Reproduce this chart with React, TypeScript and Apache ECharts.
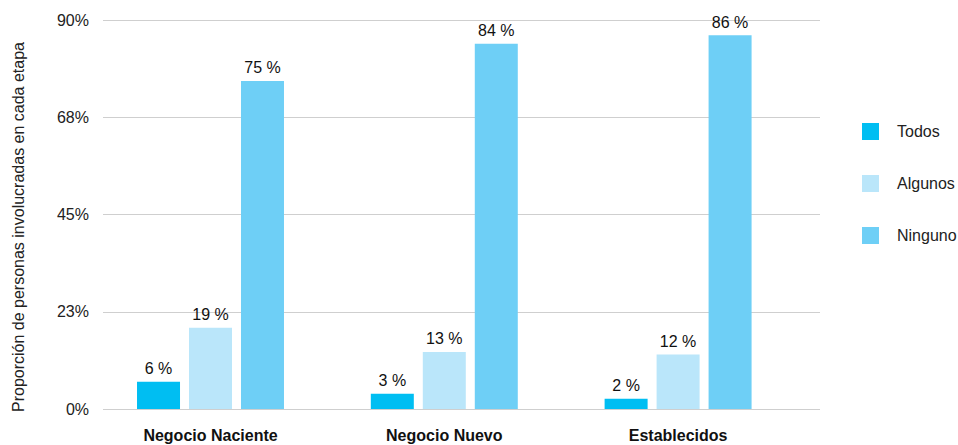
import React, { useEffect, useRef } from "react";
import * as echarts from "echarts";

const categories = ["Negocio Naciente", "Negocio Nuevo", "Establecidos"];
const seriesNames = ["Todos", "Algunos", "Ninguno"];
const todosValues = [6.3, 3.5, 2.4];
const algunosValues = [18.8, 13.2, 12.6];
const ningunoValues = [75.9, 84.5, 86.5];
const todosLabels = ["6 %", "3 %", "2 %"];
const algunosLabels = ["19 %", "13 %", "12 %"];
const ningunoLabels = ["75 %", "84 %", "86 %"];
const yTickValues = [0, 22.5, 45, 67.5, 90];
const yTitle = "Proporción de personas involucradas en cada etapa";

const colors = ["#00BEF2", "#BAE6FA", "#6ECFF6"];
const FONT = "'Liberation Sans', Arial, Helvetica, sans-serif";

export default function App() {
  const ref = useRef<HTMLDivElement>(null);
  useEffect(() => {
    if (!ref.current) return;
    const chart = echarts.init(ref.current, null, { renderer: "svg" });
    const valuesList = [todosValues, algunosValues, ningunoValues];
    const labelsList = [todosLabels, algunosLabels, ningunoLabels];
    chart.setOption({
      animation: false,
      color: colors,
      textStyle: { fontFamily: FONT },
      grid: [
        { left: 103, right: 138, top: 20, bottom: 36 },
        { left: 93.6, right: 163, top: 20, bottom: 36 },
      ],
      xAxis: [
        { type: "category", gridIndex: 0, data: categories, show: false },
        {
          type: "category",
          gridIndex: 1,
          data: categories,
          axisLine: { show: false },
          axisTick: { show: false },
          axisLabel: {
            margin: 18,
            fontSize: 16,
            fontWeight: "bold",
            color: "#111",
            fontFamily: FONT,
          },
        },
      ],
      yAxis: [
        {
          type: "value",
          gridIndex: 0,
          min: 0,
          max: yTickValues[yTickValues.length - 1],
          interval: yTickValues[1] - yTickValues[0],
          axisLine: { show: false },
          axisTick: { show: false },
          axisLabel: {
            margin: 14,
            fontSize: 16,
            color: "#222",
            fontFamily: FONT,
            formatter: (v: number) => Math.round(v) + "%",
          },
          splitLine: { lineStyle: { color: "#cfcfcf", width: 1 } },
        },
        {
          type: "value",
          gridIndex: 1,
          min: 0,
          max: yTickValues[yTickValues.length - 1],
          interval: yTickValues[1] - yTickValues[0],
          show: false,
          splitLine: { show: false },
        },
      ],
      legend: {
        orient: "vertical",
        left: 862,
        top: 123,
        padding: 0,
        itemWidth: 17,
        itemHeight: 17,
        itemGap: 35,
        icon: "rect",
        data: seriesNames,
        textStyle: {
          fontSize: 16,
          color: "#222",
          fontFamily: FONT,
          padding: [0, 0, 0, 13],
        },
      },
      graphic: [
        {
          type: "text",
          x: 18.5,
          y: 227,
          rotation: Math.PI / 2,
          style: {
            text: yTitle,
            fontSize: 16,
            fontFamily: FONT,
            fill: "#222",
            align: "center",
            verticalAlign: "middle",
          },
        },
      ],
      series: seriesNames.map((name, i) => ({
        name,
        type: "bar",
        xAxisIndex: 1,
        yAxisIndex: 1,
        barWidth: 43,
        barGap: "20.9%",
        data: valuesList[i],
        itemStyle: { color: colors[i] },
        label: {
          show: true,
          position: "top",
          distance: 5,
          fontSize: 16,
          color: "#111",
          fontFamily: FONT,
          formatter: (p: any) => labelsList[i][p.dataIndex],
        },
      })),
    });
    return () => chart.dispose();
  }, []);
  return (
    <div
      ref={ref}
      style={{ position: "fixed", left: 0, top: 0, width: 958, height: 445, background: "#fff" }}
    />
  );
}
